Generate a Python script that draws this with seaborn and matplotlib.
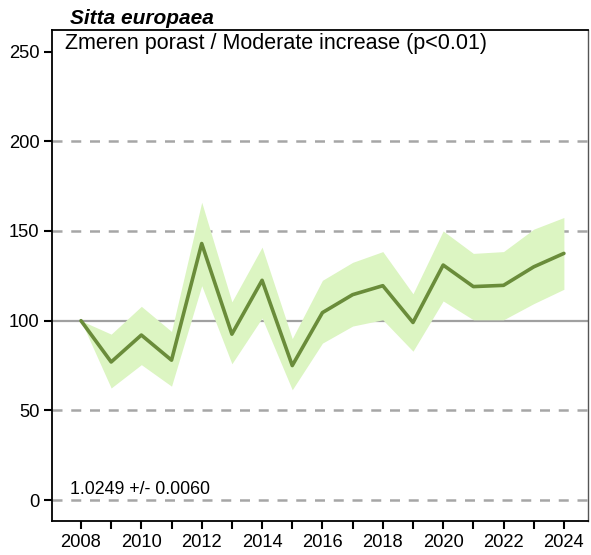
import numpy as np
import pandas as pd
import seaborn as sns
import matplotlib.pyplot as plt

# index values
years = list(range(2008, 2025))
index = [100, 77, 92, 78, 143, 92.5, 122.5, 75, 104.5, 114.5, 119.5, 99, 131, 119, 119.7, 130, 137.5]
upper = [100, 92.5, 108, 94, 166, 110.5, 141, 90, 122.5, 132.5, 138.5, 115, 150, 137.5, 138.5, 151, 157.5]
lower = [100, 62.5, 75.5, 63.5, 119.5, 76, 101.5, 61.5, 87.5, 97, 100.5, 83, 111, 100.5, 100.5, 109.5, 117.5]
grid_levels = [0, 50, 150, 200]

species = 'Sitta europaea'
trend_label = 'Zmeren porast / Moderate increase (p<0.01)'
slope_label = '1.0249 +/- 0.0060'

df = pd.DataFrame({'year': years, 'index': index, 'upper': upper, 'lower': lower})

sns.set_style('white')
plt.rcParams['font.family'] = ['Liberation Sans', 'DejaVu Sans']
plt.rcParams['text.color'] = 'black'
plt.rcParams['xtick.color'] = 'black'
plt.rcParams['ytick.color'] = 'black'

fig = plt.figure(figsize=(5.91, 5.55), dpi=100)
ax = fig.add_axes([0.088, 0.061, 0.907, 0.885])

# reference lines
for lvl in grid_levels:
    ax.axhline(lvl, color='#a6a6a6', lw=1.8, ls=(0, (4, 3.5)), zorder=0)
ax.axhline(100, color='#a0a0a0', lw=1.6, zorder=0)

ax.fill_between(df['year'], df['lower'], df['upper'], color='#dcf5c2', lw=0, zorder=1)
sns.lineplot(data=df, x='year', y='index', color='#6a8c3a', lw=2.6, ax=ax, zorder=2)

ax.set_xlim(2007.04, 2024.8)
ax.set_ylim(-11.7, 262)
ax.set_xticks(years)
ax.set_xticklabels([str(y) if y % 2 == 0 else '' for y in years])
ax.set_yticks([0, 50, 100, 150, 200, 250])
ax.tick_params(axis='both', direction='out', length=6, width=1.5, color='black',
               labelcolor='black', labelsize=13.2, bottom=True, left=True, pad=3)
ax.set_xlabel('')
ax.set_ylabel('')

for side in ['left', 'bottom', 'top']:
    ax.spines[side].set_color('black')
    ax.spines[side].set_linewidth(1.3)
ax.spines['right'].set_color('#555555')
ax.spines['right'].set_linewidth(1.0)

ax.text(0.025, 0.993, trend_label, transform=ax.transAxes, ha='left', va='top',
        fontsize=15.5, color='black')
ax.text(0.033, 0.047, slope_label, transform=ax.transAxes, ha='left', va='bottom',
        fontsize=12.8, color='black')
fig.text(0.118, 0.95, species, ha='left', va='bottom', fontsize=15, color='black',
         fontweight='bold', fontstyle='italic')

plt.savefig('out.png', dpi=100)
